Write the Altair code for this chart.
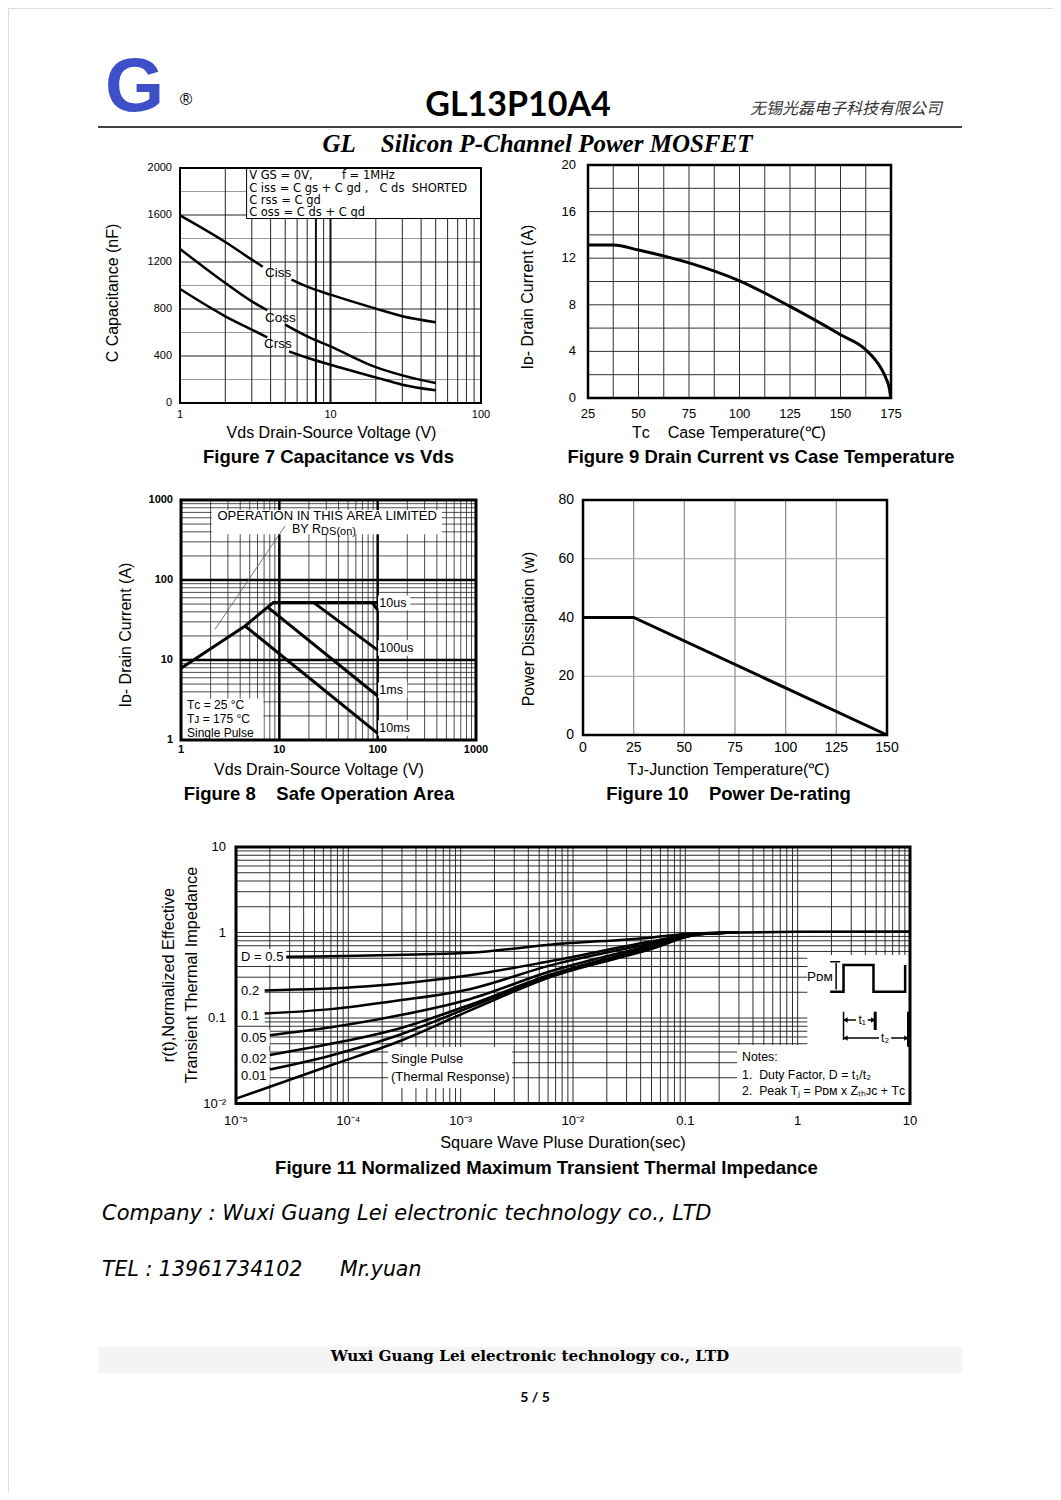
import altair as alt
import pandas as pd

W, H = 1045, 1484
M = 8
SANS = "Liberation Sans"
NB = "\u00a0"


def P(v):
    return v - M


def sp(s):
    return s.replace(" ", NB)


# ======================= DATA =======================
# ---- Figure 7 : Capacitance vs Vds ----
f7_xticks = [1, 10, 100]
f7_xlabels = ["1", "10", "100"]
f7_yticks = [0, 400, 800, 1200, 1600, 2000]
f7_ylabels = ["0", "400", "800", "1200", "1600", "2000"]
f7_vgrid = [2, 3, 4, 5, 6, 7, 9, 20, 30, 40, 50, 60, 70, 80, 90]
f7_vgrid_heavy = [8, 10]
f7_hgrid_dark = [400, 800, 1200, 1600]
f7_hgrid_light = [200, 600, 1000, 1400, 1800]
ciss_vds = [1, 2, 3, 3.55, 5.5, 7, 10, 20, 30, 50]
ciss_cap = [1597, 1370, 1220, 1160, 1050, 990, 922, 803, 738, 687]
coss_vds = [1, 2, 3, 3.8, 5, 7, 10, 20, 30, 50]
coss_cap = [1311, 1021, 865, 790, 667, 567, 482, 305, 235, 170]
crss_vds = [1, 2, 3, 3.8, 5.3, 7, 10, 20, 30, 50]
crss_cap = [970, 738, 624, 559, 440, 385, 326, 218, 156, 108]
f7_gap_after = 4
f7_lab_text = ["Ciss", "Coss", "Crss"]
f7_lab_x = [3.67, 3.67, 3.62]
f7_lab_y = [1106, 723, 502]
f7_note_text = ["V GS = 0V,        f = 1MHz", "C iss = C gs + C gd ,   C ds  SHORTED",
                "C rss = C gd", "C oss = C ds + C gd"]
f7_note_x = [2.88, 2.88, 2.88, 2.88]
f7_note_y = [1932, 1821, 1719, 1617]
f7_box = [2.77, 100, 1570, 2000]

# ---- Figure 9 : Drain current vs case temperature ----
f9_xticks = [25, 50, 75, 100, 125, 150, 175]
f9_xlabels = ["25", "50", "75", "100", "125", "150", "175"]
f9_yticks = [0, 4, 8, 12, 16, 20]
f9_ylabels = ["0", "4", "8", "12", "16", "20"]
f9_vgrid = [37.5, 50, 62.5, 75, 87.5, 100, 112.5, 125, 137.5, 150, 162.5]
f9_hgrid = [2, 4, 6, 8, 10, 12, 14, 16, 18]
f9_tc = [25, 37.5, 50, 57.5, 75, 100, 125, 150, 162.5, 170, 172.5, 174.3, 174.8]
f9_id = [13.14, 13.14, 12.7, 12.4, 11.6, 10.06, 7.86, 5.43, 4.14, 2.57, 1.7, 0.7, 0.1]

# ---- Figure 8 : Safe operation area ----
f8_ticks = [1, 10, 100, 1000]
f8_labels = ["1", "10", "100", "1000"]
f8_minor = [k * 10 ** n for n in range(3) for k in range(2, 10)]
f8_major = [10, 100]
soa_name = ["lim"] * 4 + ["10us"] * 2 + ["100us"] * 2 + ["1ms"] * 2 + ["10ms"] * 2
soa_vds = [1, 4.48, 8.7, 100, 88, 100, 22.2, 100, 7.6, 100, 4.48, 100]
soa_id = [7.9, 26.6, 52.5, 52.5, 52.5, 42, 52.5, 13.3, 45.7, 3.55, 26.6, 1.21]
rds_note_vds = [2.22, 11.4]
rds_note_id = [24.2, 473]
f8_lab_text = ["10us", "100us", "1ms", "10ms"]
f8_lab_x = [104, 104, 104, 104]
f8_lab_y = [52, 14.1, 4.2, 1.41]
f8_box_x1 = [101, 101, 101, 101, 2.05, 1.0]
f8_box_x2 = [215, 228, 200, 215, 449, 6.9]
f8_box_y1 = [42, 11.3, 3.35, 1.13, 373, 1.0]
f8_box_y2 = [64, 17.6, 5.25, 1.76, 750, 3.3]
f8_cond_text = ["T\u1d04 = 25 \u00b0C", "T\u1d0a = 175 \u00b0C", "Single Pulse"]
f8_cond_x = [1.15, 1.15, 1.15]
f8_cond_y = [2.74, 1.83, 1.22]

# ---- Figure 10 : Power de-rating ----
f10_xticks = [0, 25, 50, 75, 100, 125, 150]
f10_xlabels = ["0", "25", "50", "75", "100", "125", "150"]
f10_yticks = [0, 20, 40, 60, 80]
f10_ylabels = ["0", "20", "40", "60", "80"]
f10_vgrid = [25, 50, 75, 100, 125]
f10_hgrid = [20, 40, 60]
f10_tj = [0, 25, 150]
f10_pd = [40, 40, 0]

# ---- Figure 11 : Transient thermal impedance ----
f11_xticks = [1e-5, 1e-4, 1e-3, 1e-2, 0.1, 1, 10]
f11_xlabels = ["10\u207b\u2075", "10\u207b\u2074", "10\u207b\u00b3", "10\u207b\u00b2", "0.1", "1", "10"]
f11_yticks = [0.01, 0.1, 1, 10]
f11_ylabels = ["10\u207b\u00b2", "0.1", "1", "10"]
f11_vgrid = [k * 10.0 ** n for n in range(-5, 1) for k in range(1, 10)][1:]
f11_hgrid = [k * 10.0 ** n for n in range(-2, 1) for k in range(1, 10)][1:]
tail_t = [0.3, 1, 10]
tail_z = [1.0, 1.02, 1.03]
d05_t = [2.8e-5, 1.2e-3, 6.2e-3, 4.8e-2, 0.11]
d05_z = [0.52, 0.58, 0.72, 0.87, 0.97]
d02_t = [1.8e-5, 1.4e-4, 1.2e-3, 6.2e-3, 4.8e-2, 0.13]
d02_z = [0.21, 0.233, 0.316, 0.46, 0.78, 0.97]
d01_t = [1.8e-5, 7e-5, 2.7e-4, 1.2e-3, 6.2e-3, 4.8e-2, 0.13]
d01_z = [0.113, 0.127, 0.159, 0.217, 0.41, 0.74, 0.97]
d005_t = [2e-5, 7e-5, 2.7e-4, 1.2e-3, 6.2e-3, 4.8e-2, 0.13]
d005_z = [0.063, 0.078, 0.106, 0.166, 0.35, 0.70, 0.96]
d002_t = [2e-5, 7e-5, 2.7e-4, 1.2e-3, 6.2e-3, 4.8e-2, 0.13]
d002_z = [0.037, 0.05, 0.074, 0.142, 0.32, 0.67, 0.96]
d001_t = [2e-5, 7e-5, 2.7e-4, 1.2e-3, 6.2e-3, 4.8e-2, 0.13]
d001_z = [0.025, 0.0365, 0.062, 0.133, 0.31, 0.65, 0.95]
single_t = [1e-5, 7e-5, 2.7e-4, 1.2e-3, 6.2e-3, 4.8e-2, 0.13]
single_z = [0.0114, 0.028, 0.052, 0.122, 0.30, 0.63, 0.95]
f11_dlab_text = ["D = 0.5", "0.2", "0.1", "0.05", "0.02", "0.01"]
f11_dlab_x = [1.11e-5] * 6
f11_dlab_y = [0.517, 0.207, 0.105, 0.0583, 0.0331, 0.021]
f11_dlab_end = [2.8e-5, 1.8e-5, 1.8e-5, 2e-5, 2e-5, 2e-5]
f11_box_x1 = [2.26e-4, 0.289, 1.22]
f11_box_x2 = [2.87e-3, 10, 10]
f11_box_y1 = [0.0152, 0.01, 0.0483]
f11_box_y2 = [0.0458, 0.0483, 0.545]
f11_sp_text = ["Single Pulse", "(Thermal Response)"]
f11_sp_x = [2.4e-4, 2.4e-4]
f11_sp_y = [0.033, 0.0204]
f11_notes_text = ["Notes:", "1.  Duty Factor, D = t\u2081/t\u2082",
                  "2.  Peak T\u2c7c = P\u1d05\u1d0d x Z\u209c\u2095\u1d0a\u1d04 + T\u1d04"]
f11_notes_x = [0.32, 0.32, 0.32]
f11_notes_y = [0.035, 0.0216, 0.014]
pulse_t = [1.945, 2.56, 2.56, 4.73, 4.73, 9.05, 9.05]
pulse_p = [0.203, 0.203, 0.417, 0.417, 0.203, 0.203, 0.417]
pdm_arrow_t = [2.2, 2.2]
pdm_arrow_p = [0.215, 0.44]
pdm_cap_t = [1.945, 2.39]
pdm_cap_p = [0.455, 0.455]
tbar_t = [2.56, 4.9, 9.7]
tbar_lo = [0.0553, 0.0724, 0.0461]
tbar_hi = [0.1186, 0.1186, 0.1186]
tbar_w = [1.5, 3, 3]
tarrow_name = ["t1", "t1", "t2", "t2"]
tarrow_t = [2.56, 4.9, 2.56, 9.7]
tarrow_p = [0.0948, 0.0948, 0.0583, 0.0583]
thead_t = [2.66, 4.72, 2.66, 9.3]
thead_p = [0.0948, 0.0948, 0.0583, 0.0583]
thead_shape = ["triangle-left", "triangle-right", "triangle-left", "triangle-right"]
tlab_text = ["t\u2081", "t\u2082"]
tlab_t = [3.75, 6.0]
tlab_p = [0.0948, 0.0583]


# ======================= HELPERS =======================
def frame(sx, sy, xd, yd, sw):
    df = pd.DataFrame({"x1": [xd[0]], "x2": [xd[1]], "y1": [yd[0]], "y2": [yd[1]]})
    return alt.Chart(df).mark_rect(fillOpacity=0, stroke="black", strokeWidth=sw).encode(
        x=alt.X("x1:Q", scale=sx, axis=None), x2="x2:Q",
        y=alt.Y("y1:Q", scale=sy, axis=None), y2="y2:Q")


def vgrid(vals, sx, sy, yd, color, width):
    df = pd.DataFrame({"v": vals, "lo": [yd[0]] * len(vals), "hi": [yd[1]] * len(vals)})
    return alt.Chart(df).mark_rule(color=color, strokeWidth=width).encode(
        x=alt.X("v:Q", scale=sx, axis=None), y=alt.Y("lo:Q", scale=sy, axis=None), y2="hi:Q")


def hgrid(vals, sx, sy, xd, color, width):
    df = pd.DataFrame({"v": vals, "lo": [xd[0]] * len(vals), "hi": [xd[1]] * len(vals)})
    return alt.Chart(df).mark_rule(color=color, strokeWidth=width).encode(
        y=alt.Y("v:Q", scale=sy, axis=None), x=alt.X("lo:Q", scale=sx, axis=None), x2="hi:Q")


def boxes(x1, x2, y1, y2, sx, sy, stroke=None):
    df = pd.DataFrame({"x1": x1, "x2": x2, "y1": y1, "y2": y2})
    kw = dict(color="white")
    if stroke:
        kw.update(stroke=stroke, strokeWidth=1)
    return alt.Chart(df).mark_rect(**kw).encode(
        x=alt.X("x1:Q", scale=sx, axis=None), x2="x2:Q",
        y=alt.Y("y1:Q", scale=sy, axis=None), y2="y2:Q")


def labels(xs, ys, texts, sx, sy, **kw):
    df = pd.DataFrame({"x": xs, "y": ys, "t": [sp(t) for t in texts]})
    style = dict(font=SANS, color="black", baseline="middle", align="left")
    style.update(kw)
    return alt.Chart(df).mark_text(**style).encode(
        x=alt.X("x:Q", scale=sx, axis=None), y=alt.Y("y:Q", scale=sy, axis=None), text="t:N")


def xticks(vals, labs, sx, ypix, size, weight="normal"):
    df = pd.DataFrame({"v": vals, "t": labs})
    return alt.Chart(df).mark_text(align="center", baseline="middle", font=SANS, fontSize=size,
                                   fontWeight=weight, color="black").encode(
        x=alt.X("v:Q", scale=sx, axis=None), y=alt.value(P(ypix)), text="t:N")


def yticks(vals, labs, sy, xpix, size, weight="normal"):
    df = pd.DataFrame({"v": vals, "t": labs})
    return alt.Chart(df).mark_text(align="right", baseline="middle", font=SANS, fontSize=size,
                                   fontWeight=weight, color="black").encode(
        y=alt.Y("v:Q", scale=sy, axis=None), x=alt.value(P(xpix)), text="t:N")


def lines(df, xf, yf, sx, sy, width, interp="monotone", color="black"):
    return alt.Chart(df).mark_line(color=color, strokeWidth=width, interpolate=interp).encode(
        x=alt.X(f"{xf}:Q", scale=sx, axis=None), y=alt.Y(f"{yf}:Q", scale=sy, axis=None),
        detail="k:N", order="i:Q")


def txt(s, x, y, size=12, font=SANS, weight="normal", style="normal", align="center",
        color="black", baseline="middle", angle=0):
    return alt.Chart(pd.DataFrame({"s": [sp(s)]})).mark_text(
        align=align, baseline=baseline, fontSize=size, font=font, fontWeight=weight,
        fontStyle=style, color=color, angle=angle).encode(
        x=alt.value(P(x)), y=alt.value(P(y)), text="s:N")


def series(pairs):
    rows = []
    for key, xs, ys in pairs:
        for i, (a, b) in enumerate(zip(xs, ys)):
            rows.append({"k": key, "i": i, "a": a, "b": b})
    return pd.DataFrame(rows)


# ======================= FIGURE 7 =======================
sx7 = alt.Scale(type="log", domain=[1, 100], range=[P(180), P(481)], nice=False)
sy7 = alt.Scale(domain=[0, 2000], range=[P(403), P(168)], nice=False, zero=False)
f7_pairs = []
for name, xs, ys in [("Ciss", ciss_vds, ciss_cap), ("Coss", coss_vds, coss_cap), ("Crss", crss_vds, crss_cap)]:
    f7_pairs.append((name + "a", xs[:f7_gap_after], ys[:f7_gap_after]))
    f7_pairs.append((name + "b", xs[f7_gap_after:], ys[f7_gap_after:]))
fig7 = alt.layer(
    hgrid(f7_hgrid_light, sx7, sy7, [1, 100], "#9a9a9a", 1),
    hgrid(f7_hgrid_dark, sx7, sy7, [1, 100], "#222222", 1.2),
    vgrid(f7_vgrid, sx7, sy7, [0, 2000], "#222222", 1),
    vgrid(f7_vgrid_heavy, sx7, sy7, [0, 2000], "#111111", 2),
    boxes([f7_box[0]], [f7_box[1]], [f7_box[2]], [f7_box[3]], sx7, sy7, stroke="black"),
    frame(sx7, sy7, [1, 100], [0, 2000], 2),
    lines(series(f7_pairs), "a", "b", sx7, sy7, 2.5),
    labels(f7_lab_x, f7_lab_y, f7_lab_text, sx7, sy7, fontSize=13.5),
    labels(f7_note_x, f7_note_y, f7_note_text, sx7, sy7, fontSize=11.5, font="DejaVu Sans"),
    xticks(f7_xticks, f7_xlabels, sx7, 415, 11),
    yticks(f7_yticks, f7_ylabels, sy7, 172, 11),
)

# ======================= FIGURE 9 =======================
sx9 = alt.Scale(domain=[25, 175], range=[P(588), P(891)], nice=False, zero=False)
sy9 = alt.Scale(domain=[0, 20], range=[P(398), P(165)], nice=False, zero=False)
fig9 = alt.layer(
    vgrid(f9_vgrid, sx9, sy9, [0, 20], "#333333", 1),
    hgrid(f9_hgrid, sx9, sy9, [25, 175], "#333333", 1),
    frame(sx9, sy9, [25, 175], [0, 20], 2.5),
    lines(series([("id", f9_tc, f9_id)]), "a", "b", sx9, sy9, 3),
    xticks(f9_xticks, f9_xlabels, sx9, 414, 13),
    yticks(f9_yticks, f9_ylabels, sy9, 576, 13),
)

# ======================= FIGURE 8 =======================
sx8 = alt.Scale(type="log", domain=[1, 1000], range=[P(181), P(476)], nice=False)
sy8 = alt.Scale(type="log", domain=[1, 1000], range=[P(740), P(500)], nice=False)
soa_pairs = []
for nm in ["lim", "10us", "100us", "1ms", "10ms"]:
    idx = [i for i, n in enumerate(soa_name) if n == nm]
    soa_pairs.append((nm, [soa_vds[i] for i in idx], [soa_id[i] for i in idx]))
fig8 = alt.layer(
    vgrid(f8_minor, sx8, sy8, [1, 1000], "#222222", 0.8),
    hgrid(f8_minor, sx8, sy8, [1, 1000], "#222222", 0.8),
    vgrid(f8_major, sx8, sy8, [1, 1000], "black", 2.5),
    hgrid(f8_major, sx8, sy8, [1, 1000], "black", 2.5),
    boxes(f8_box_x1, f8_box_x2, f8_box_y1, f8_box_y2, sx8, sy8),
    frame(sx8, sy8, [1, 1000], [1, 1000], 3),
    lines(series([("note", rds_note_vds, rds_note_id)]), "a", "b", sx8, sy8, 0.8, "linear", "#555555"),
    lines(series(soa_pairs), "a", "b", sx8, sy8, 3, "linear"),
    labels(f8_lab_x, f8_lab_y, f8_lab_text, sx8, sy8, fontSize=12.5),
    labels(f8_cond_x, f8_cond_y, f8_cond_text, sx8, sy8, fontSize=12),
    labels([30.6], [631], ["OPERATION IN THIS AREA LIMITED"], sx8, sy8, fontSize=13, align="center"),
    labels([26.6], [434], ["BY R"], sx8, sy8, fontSize=12.5, align="right"),
    labels([26.6], [398], ["DS(on)"], sx8, sy8, fontSize=11),
    xticks(f8_ticks, f8_labels, sx8, 750, 11, "bold"),
    yticks(f8_ticks, f8_labels, sy8, 173, 11, "bold"),
)

# ======================= FIGURE 10 =======================
sx10 = alt.Scale(domain=[0, 150], range=[P(583), P(887)], nice=False, zero=False)
sy10 = alt.Scale(domain=[0, 80], range=[P(735), P(500)], nice=False, zero=False)
fig10 = alt.layer(
    vgrid(f10_vgrid, sx10, sy10, [0, 80], "#8c8c8c", 1.2),
    hgrid(f10_hgrid, sx10, sy10, [0, 150], "#a0a0a0", 1.2),
    frame(sx10, sy10, [0, 150], [0, 80], 2.5),
    lines(series([("pd", f10_tj, f10_pd)]), "a", "b", sx10, sy10, 3, "linear"),
    xticks(f10_xticks, f10_xlabels, sx10, 748, 14),
    yticks(f10_yticks, f10_ylabels, sy10, 574, 14),
)

# ======================= FIGURE 11 =======================
sx11 = alt.Scale(type="log", domain=[1e-5, 10], range=[P(236), P(910)], nice=False)
sy11 = alt.Scale(type="log", domain=[0.01, 10], range=[P(1103.5), P(847)], nice=False)
zth_pairs = [("tail", tail_t, tail_z)]
for nm, ts, zs in [("d05", d05_t, d05_z), ("d02", d02_t, d02_z), ("d01", d01_t, d01_z),
                   ("d005", d005_t, d005_z), ("d002", d002_t, d002_z), ("d001", d001_t, d001_z),
                   ("single", single_t, single_z)]:
    zth_pairs.append((nm, ts + tail_t[:1], zs + tail_z[:1]))
lab_box_lo = [y / 1.24 for y in f11_dlab_y]
lab_box_hi = [y * 1.24 for y in f11_dlab_y]
tbar_df = pd.DataFrame({"t": tbar_t, "lo": tbar_lo, "hi": tbar_hi, "w": tbar_w})
thead_df = pd.DataFrame({"t": thead_t, "p": thead_p, "s": thead_shape})
tarrow_pairs = [(tarrow_name[i], [tarrow_t[i], tarrow_t[i + 1]], [tarrow_p[i], tarrow_p[i + 1]])
                for i in range(0, len(tarrow_name), 2)]
fig11 = alt.layer(
    vgrid(f11_vgrid, sx11, sy11, [0.01, 10], "#1a1a1a", 0.9),
    hgrid(f11_hgrid, sx11, sy11, [1e-5, 10], "#1a1a1a", 0.9),
    boxes([1e-5] * 6, f11_dlab_end, lab_box_lo, lab_box_hi, sx11, sy11),
    boxes(f11_box_x1, f11_box_x2, f11_box_y1, f11_box_y2, sx11, sy11),
    frame(sx11, sy11, [1e-5, 10], [0.01, 10], 3),
    lines(series(zth_pairs), "a", "b", sx11, sy11, 2.5),
    lines(series([("pulse", pulse_t, pulse_p)]), "a", "b", sx11, sy11, 2.5, "linear"),
    lines(series([("arr", pdm_arrow_t, pdm_arrow_p), ("cap", pdm_cap_t, pdm_cap_p)]), "a", "b",
          sx11, sy11, 1.5, "linear"),
    alt.Chart(tbar_df).mark_rule(color="black").encode(
        x=alt.X("t:Q", scale=sx11, axis=None), y=alt.Y("lo:Q", scale=sy11, axis=None), y2="hi:Q",
        strokeWidth=alt.StrokeWidth("w:Q", scale=None)),
    lines(series(tarrow_pairs), "a", "b", sx11, sy11, 1.5, "linear"),
    boxes([3.3, 5.3], [4.2, 6.8], [0.0948 / 1.14, 0.0583 / 1.14], [0.0948 * 1.14, 0.0583 * 1.14], sx11, sy11),
    alt.Chart(thead_df).mark_point(filled=True, color="black", size=28, opacity=1).encode(
        x=alt.X("t:Q", scale=sx11, axis=None), y=alt.Y("p:Q", scale=sy11, axis=None),
        shape=alt.Shape("s:N", scale=None)),
    labels(tlab_t, tlab_p, tlab_text, sx11, sy11, fontSize=12, align="center"),
    labels([2.05], [0.3], ["P\u1d05\u1d0d"], sx11, sy11, fontSize=13.5, align="right"),
    labels(f11_dlab_x, f11_dlab_y, f11_dlab_text, sx11, sy11, fontSize=13),
    labels(f11_sp_x, f11_sp_y, f11_sp_text, sx11, sy11, fontSize=13),
    labels(f11_notes_x, f11_notes_y, f11_notes_text, sx11, sy11, fontSize=12.3),
    xticks(f11_xticks, f11_xlabels, sx11, 1121, 13),
    yticks(f11_yticks, f11_ylabels, sy11, 226, 13),
)

# ======================= PAGE TEXT =======================
dummy = pd.DataFrame({"d": [0]})
TS = 16
CS = 18.5
page = [
    txt("G", 105, 111, size=76, weight="bold", color="#3d50c8", align="left", baseline="alphabetic"),
    txt("\u00ae", 186, 105, size=17, baseline="alphabetic"),
    txt("GL13P10A4", 518, 116, size=34, font="Lato", weight="bold", baseline="alphabetic"),
    txt("\u65e0\u9521\u5149\u78ca\u7535\u5b50\u79d1\u6280\u6709\u9650\u516c\u53f8", 846, 114, size=16,
        font="Noto Sans CJK SC", style="italic", color="#333333", baseline="alphabetic"),
    alt.Chart(dummy).mark_rule(color="black", strokeWidth=1.5).encode(
        x=alt.value(P(98)), x2=alt.value(P(962)), y=alt.value(P(127))),
    txt("GL    Silicon P-Channel Power MOSFET", 537.5, 152, size=25, font="Liberation Serif",
        weight="bold", style="italic", baseline="alphabetic"),
    # axis titles
    txt("Vds Drain-Source Voltage (V)", 331.5, 433, size=TS),
    txt("C Capacitance (nF)", 113, 293, size=TS, angle=270),
    txt("T\u1d04    Case Temperature(\u2103)", 729, 433, size=TS),
    txt("I\u1d05- Drain Current (A)", 528, 297, size=TS, angle=270),
    txt("Vds Drain-Source Voltage (V)", 319, 770, size=TS),
    txt("I\u1d05- Drain Current (A)", 126, 635, size=TS, angle=270),
    txt("T\u1d0a-Junction Temperature(\u2103)", 728.5, 770, size=TS),
    txt("Power Dissipation (w)", 529, 629, size=TS, angle=270),
    txt("Square Wave Pluse Duration(sec)", 563, 1143, size=16.3),
    txt("r(t),Normalized Effective", 169, 975, size=16.3, angle=270),
    txt("Transient Thermal Impedance", 192, 975, size=16.3, angle=270),
    # captions
    txt("Figure 7 Capacitance vs Vds", 328.5, 457, size=CS, weight="bold"),
    txt("Figure 9 Drain Current vs Case Temperature", 761, 457, size=CS, weight="bold"),
    txt("Figure 8    Safe Operation Area", 319, 794, size=CS, weight="bold"),
    txt("Figure 10    Power De-rating", 728.5, 794, size=CS, weight="bold"),
    txt("Figure 11 Normalized Maximum Transient Thermal Impedance", 546.5, 1168, size=CS, weight="bold"),
    # footer
    txt("Company : Wuxi Guang Lei electronic technology co., LTD", 102, 1220, size=21,
        font="DejaVu Sans", style="italic", align="left", baseline="alphabetic"),
    txt("TEL : 13961734102", 102, 1276, size=20.5, font="DejaVu Sans", style="italic",
        align="left", baseline="alphabetic"),
    txt("Mr.yuan", 340, 1276, size=20.5, font="DejaVu Sans", style="italic", align="left",
        baseline="alphabetic"),
    alt.Chart(dummy).mark_rect(color="#f4f4f4").encode(
        x=alt.value(P(98)), x2=alt.value(P(962)), y=alt.value(P(1347)), y2=alt.value(P(1373))),
    txt("Wuxi Guang Lei electronic technology co., LTD", 530, 1361, size=15.2, font="DejaVu Serif",
        weight="bold", baseline="alphabetic"),
    txt("5 / 5", 535, 1402, size=14, font="Lato", weight="bold", baseline="alphabetic"),
]

chart = alt.layer(fig7, fig9, fig8, fig10, fig11, *page).resolve_scale(
    x="independent", y="independent"
).properties(
    width=W, height=H, padding=0, autosize=alt.AutoSizeParams(type="none")
).configure_view(strokeWidth=0, stroke="transparent").configure(font=SANS)

chart.save("out.html", embed_options={"renderer": "svg", "actions": False})
